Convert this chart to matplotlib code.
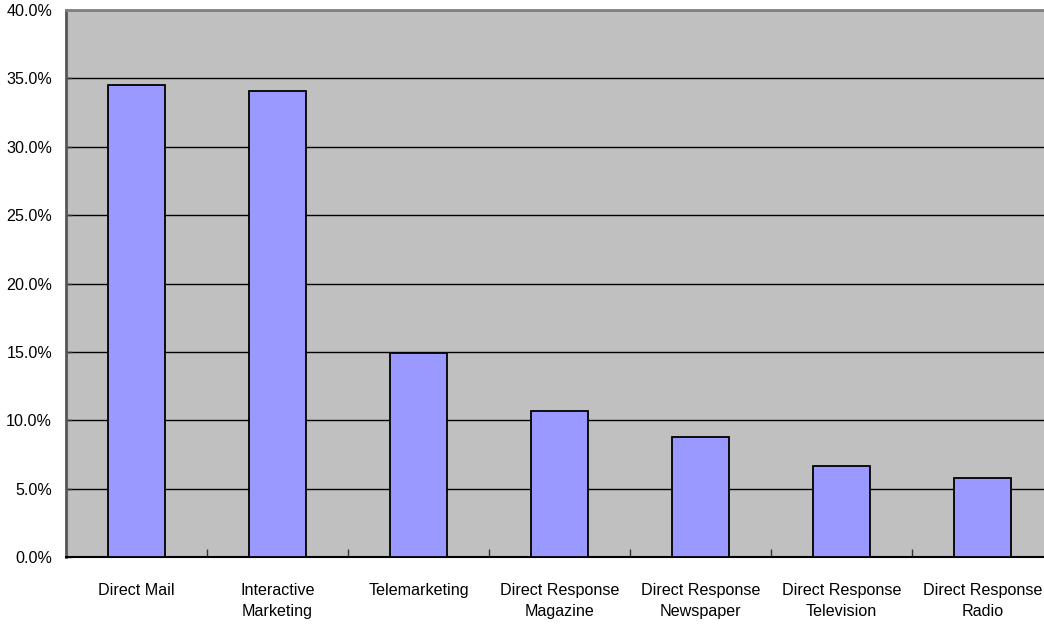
import matplotlib.pyplot as plt
from matplotlib.ticker import FuncFormatter, FixedLocator
import numpy as np

# share of spending by direct marketing channel (%)
channels = ['Direct Mail', 'Interactive\nMarketing', 'Telemarketing',
            'Direct Response\nMagazine', 'Direct Response\nNewspaper',
            'Direct Response\nTelevision', 'Direct Response\nRadio']
shares = [34.5, 34.1, 14.9, 10.7, 8.8, 6.65, 5.8]
y_ticks = [0, 5, 10, 15, 20, 25, 30, 35, 40]

plt.rcParams['font.family'] = ['Liberation Sans', 'DejaVu Sans']

fig = plt.figure(figsize=(10.44, 6.25), dpi=100)
# plot area runs slightly past the right edge of the canvas
ax = fig.add_axes([66/1044, 1 - 557/625, 987/1044, 547/625])
ax.set_facecolor('#C0C0C0')

x = np.arange(len(channels))
ax.bar(x, shares, width=0.405, color='#9999FF', edgecolor='black',
       linewidth=1.3, zorder=3)

ax.set_xlim(-0.5, len(channels) - 0.5)
ax.set_ylim(0, 40)
ax.set_yticks(y_ticks)
ax.yaxis.set_major_formatter(FuncFormatter(lambda v, p: f'{v:.1f}%'))
ax.yaxis.grid(True, color='black', linewidth=1.0, zorder=1)

# category labels at bar centres, tick marks at the boundaries
ax.set_xticks(x)
ax.set_xticklabels(channels, fontsize=11.6, linespacing=1.45)
ax.tick_params(axis='x', which='major', length=0, pad=19)
ax.xaxis.set_minor_locator(FixedLocator(np.arange(0.5, len(channels) - 0.5, 1)))
ax.tick_params(axis='x', which='minor', direction='in', length=6, width=1, color='#333333')
ax.tick_params(axis='y', direction='in', length=4, width=1, labelsize=11.6, pad=10,
               color='#333333')

ax.spines['left'].set_color('#555555')
ax.spines['left'].set_linewidth(2)
ax.spines['top'].set_color('#808080')
ax.spines['top'].set_linewidth(2)
ax.spines['bottom'].set_color('black')
ax.spines['bottom'].set_linewidth(1.5)
ax.spines['right'].set_visible(False)

fig.savefig('out.png', dpi=100)
